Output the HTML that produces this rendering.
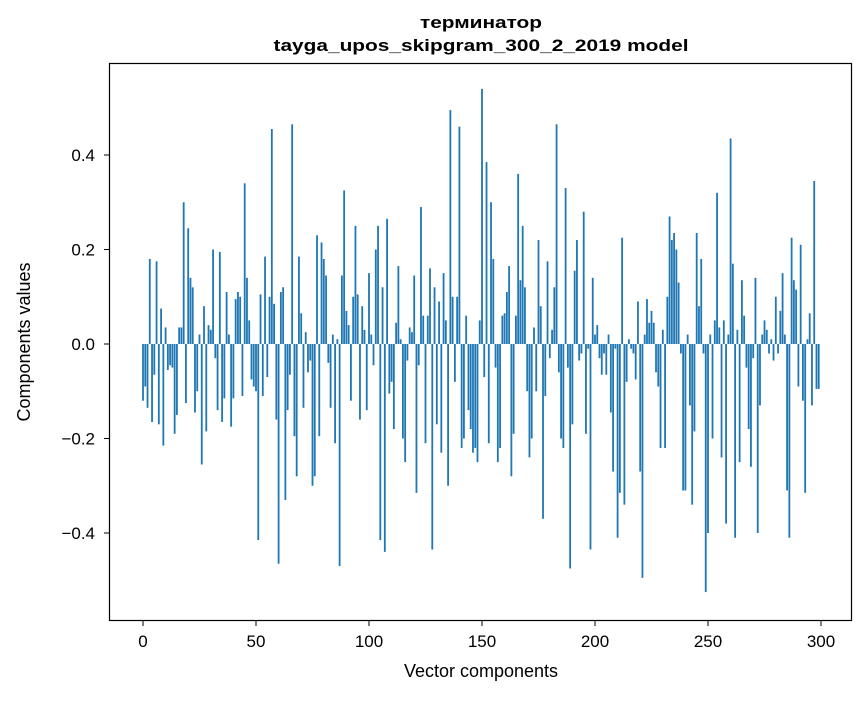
<!DOCTYPE html>
<html><head><meta charset="utf-8"><style>
body{margin:0;background:#fff;}
svg text{font-family:"Liberation Sans","DejaVu Sans",sans-serif;fill:#000;}
</style></head><body>
<svg id="chart" width="867" height="696" viewBox="0 0 867 696" xmlns="http://www.w3.org/2000/svg">
<rect width="867" height="696" fill="#fff"/>
<text x="481" y="28" text-anchor="middle" font-size="17" font-weight="bold" textLength="122" lengthAdjust="spacingAndGlyphs">терминатор</text>
<text x="481" y="51" text-anchor="middle" font-size="17" font-weight="bold" textLength="415" lengthAdjust="spacingAndGlyphs">tayga_upos_skipgram_300_2_2019 model</text>
<g id="bars"></g>
<g id="xticks"></g>
<g id="yticks"></g>
<rect x="109.5" y="63.5" width="742" height="557" fill="none" stroke="#000" stroke-width="1.2"/>
<text x="481" y="677" text-anchor="middle" font-size="18">Vector components</text>
<text transform="translate(30,342) rotate(-90)" text-anchor="middle" font-size="18">Components values</text>
</svg>
<script>
const values = [
-0.12,-0.09,-0.135,0.18,-0.165,-0.065,0.175,-0.17,0.075,-0.215,
0.035,-0.055,-0.045,-0.05,-0.19,-0.15,0.035,0.035,0.30,-0.125,
0.245,0.14,0.12,-0.145,-0.10,0.02,-0.255,0.08,-0.185,0.04,
0.03,0.20,-0.03,-0.14,0.195,-0.165,-0.115,0.11,0.02,-0.175,
-0.115,0.095,0.11,0.10,-0.11,0.34,0.14,0.05,-0.075,-0.09,
-0.10,-0.415,0.105,-0.11,0.185,-0.07,0.10,0.455,0.085,-0.16,
-0.465,0.11,0.12,-0.33,-0.14,-0.065,0.465,-0.195,-0.28,0.185,
0.065,-0.135,0.025,-0.06,-0.035,-0.30,-0.28,0.23,-0.195,0.215,
0.18,0.145,-0.04,-0.135,0.02,-0.21,0.01,-0.47,0.145,0.325,
0.07,0.04,-0.12,0.10,0.25,0.105,-0.16,0.08,0.03,-0.14,
0.15,0.02,-0.045,0.20,0.25,-0.415,0.12,-0.44,0.265,-0.105,
-0.08,-0.18,0.045,0.165,0.01,-0.20,-0.25,-0.035,0.035,0.025,
0.145,-0.315,-0.045,0.29,0.06,-0.21,0.06,0.16,-0.435,0.12,
-0.17,0.09,-0.23,0.15,0.05,-0.30,0.495,0.10,-0.08,0.10,
0.46,-0.22,-0.20,0.06,-0.14,-0.18,-0.23,-0.22,-0.25,0.05,
0.54,-0.07,0.385,-0.21,0.30,0.18,-0.05,-0.25,-0.22,0.06,
0.065,0.11,0.165,-0.28,-0.19,0.06,0.36,0.135,0.25,0.12,
-0.10,-0.24,-0.20,0.035,-0.10,0.22,0.08,-0.37,-0.11,0.175,
-0.03,0.03,0.12,0.465,-0.06,-0.20,-0.22,0.33,-0.05,-0.475,
-0.17,0.155,0.22,-0.035,-0.02,0.28,-0.19,-0.01,-0.435,0.14,
0.02,0.04,-0.03,-0.065,-0.02,-0.065,0.02,-0.145,-0.27,-0.01,
-0.41,-0.315,0.225,-0.34,-0.08,0.01,-0.01,-0.02,-0.075,0.09,
-0.27,-0.495,0.02,0.095,0.045,0.07,0.045,-0.06,-0.09,-0.22,
0.03,-0.22,0.10,0.27,0.22,0.235,0.20,0.13,-0.02,-0.31,
-0.31,0.02,-0.13,-0.34,-0.185,0.235,0.08,0.18,-0.02,-0.525,
-0.40,0.02,-0.20,0.05,0.32,0.035,-0.24,0.05,-0.38,0.02,
0.435,0.17,-0.41,0.03,-0.25,0.135,0.06,-0.05,-0.18,-0.26,
-0.03,0.14,-0.40,-0.13,0.02,0.05,0.03,-0.02,0.01,-0.035,
0.10,-0.02,0.07,0.15,0.02,-0.31,-0.41,0.225,0.135,0.115,
-0.09,0.21,-0.12,-0.315,0.01,0.065,-0.13,0.345,-0.095,-0.095
];
const xTicks = [0,50,100,150,200,250,300];
const yTicks = [-0.4,-0.2,0.0,0.2,0.4];
const yTickLabels = ["\u22120.4","\u22120.2","0.0","0.2","0.4"];

const NS = "http://www.w3.org/2000/svg";
function xScale(v){ return 143 + v*2.26; }
function yScale(v){ return 344 - v*472.5; }
const bars = document.getElementById('bars');
values.forEach((v,i)=>{
  const r = document.createElementNS(NS,'rect');
  
  
  const w = 0.8*2.26;
  r.setAttribute('x', xScale(i)-w/2);
  const y0 = yScale(0), y1 = yScale(v);
  r.setAttribute('y', Math.min(y0,y1));
  r.setAttribute('width', w);
  r.setAttribute('height', Math.max(Math.abs(y1-y0),0.5));
  r.setAttribute('fill', '#1f77b4');
  bars.appendChild(r);
});
const xg = document.getElementById('xticks');
xTicks.forEach(t=>{
  const x = xScale(t);
  const l = document.createElementNS(NS,'line');
  
  
  l.setAttribute('x1',x);l.setAttribute('x2',x);l.setAttribute('y1',621);l.setAttribute('y2',626);
  l.setAttribute('stroke','#000');
  xg.appendChild(l);
  const tx = document.createElementNS(NS,'text');
  
  
  tx.setAttribute('x',x);tx.setAttribute('y',647);
  tx.setAttribute('text-anchor','middle');tx.setAttribute('font-size','17');
  tx.textContent = String(t);
  xg.appendChild(tx);
});
const yg = document.getElementById('yticks');
yTicks.forEach((t,i)=>{
  const y = yScale(t);
  const l = document.createElementNS(NS,'line');
  
  
  l.setAttribute('x1',104);l.setAttribute('x2',109);l.setAttribute('y1',y);l.setAttribute('y2',y);
  l.setAttribute('stroke','#000');
  yg.appendChild(l);
  const tx = document.createElementNS(NS,'text');
  
  
  tx.setAttribute('x',95);tx.setAttribute('y',y+6);
  tx.setAttribute('text-anchor','end');tx.setAttribute('font-size','17');
  tx.textContent = yTickLabels[i];
  yg.appendChild(tx);
});
</script>
</body></html>
